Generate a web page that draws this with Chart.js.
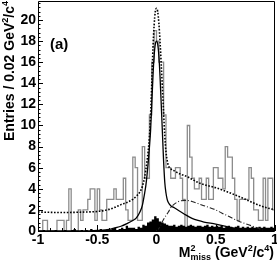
<!DOCTYPE html>
<html><head><meta charset="utf-8">
<script src="https://cdn.jsdelivr.net/npm/chart.js@4.4.1/dist/chart.umd.min.js"></script>
<style>html,body{margin:0;padding:0;background:#fff;}canvas{display:block;}</style>
</head><body>
<canvas id="c" width="277" height="261"></canvas>
<script>
// ---- data ----
const xMin = -1, xMax = 1, binWidth = 0.02;
const yMin = 0, yMax = 21.8;
const xTickValues = [-1, -0.5, 0, 0.5, 1];
const xTickLabels = ['-1', '-0.5', '0', '0.5', '1'];
const yTickValues = [0, 2, 4, 6, 8, 10, 12, 14, 16, 18, 20];
const yTickLabels = ['0', '2', '4', '6', '8', '10', '12', '14', '16', '18', '20'];

// data histogram (entries per 0.02 bin), 100 bins from -1 to 1
const dataCounts = [
  0,0,1,1,0,0,0,0,1,1,
  1,0,1,4,0,0,0,2,1,2,
  2,3,4,4,1,4,2,1,1,3,
  3,3,4,3,3,3,5,2,1,1,
  7,6,1,1,8,5,5,11,16,19,
  18,16,16,11,6,6,5,5,6,6,
  5,3,0,10,7,5,4,4,5,3,
  3,5,3,3,6,6,5,5,4,8,
  7,7,5,3,1,3,3,3,3,6,
  5,2,2,1,1,5,1,5,5,2
];
// filled black background histogram
const bkgCounts = [
  0,0,0.1,0,0,0,0,0.1,0,0,
  0,0.1,0,0,0.1,0.2,0,0,0.1,0,
  0.1,0,0.2,0.1,0,0.1,0.2,0.1,0.1,0.2,
  0.1,0.2,0.3,0.1,0.2,0.3,0.2,0.5,0.3,0.3,
  0.3,0.2,0.4,0.3,0.6,0.5,0.8,0.9,1.1,1.4,
  1.2,0.9,0.8,0.7,0.6,0.5,0.5,0.6,0.4,0.5,
  0.6,0.5,0.4,0.5,0.6,0.5,0.4,0.5,0.5,0.4,
  0.5,0.6,0.4,0.5,0.4,0.5,0.4,0.5,0.3,0.4,
  0.5,0.4,0.3,0.4,0.5,0.3,0.4,0.3,0.4,0.3,
  0.4,0.3,0.3,0.4,0.3,0.4,0.3,0.3,0.4,0.3
];
// fit curves sampled at these x positions
const curveX = [-1,-0.8,-0.6,-0.5,-0.4,-0.35,-0.3,-0.25,-0.2,-0.17,-0.14,-0.12,-0.1,-0.09,-0.08,-0.07,-0.06,-0.05,-0.04,-0.03,-0.02,-0.01,0,
  0.01,0.02,0.03,0.04,0.05,0.06,0.07,0.08,0.09,0.1,0.12,0.15,0.2,0.25,0.3,0.35,0.4,0.5,0.6,0.7,0.8,0.9,1];
const signalY = [0,0,0,0.05,0.15,0.3,0.45,0.7,1.0,1.25,1.8,2.4,3.6,4.3,5.3,6.5,7.9,9.5,12.0,14.6,16.6,17.7,18.0,
  17.7,16.6,14.6,12.0,9.3,6.6,4.6,3.6,3.0,2.7,2.4,2.2,1.85,1.5,1.2,1.0,0.85,0.65,0.4,0.15,0.05,0,0];
const totalY = [1.8,1.75,1.8,1.85,2.05,2.25,2.5,2.7,3.0,3.3,3.7,4.2,5.1,5.8,6.6,7.6,8.9,11.0,14.0,17.3,19.5,20.8,21.1,
  20.8,19.7,17.9,15.8,13.5,11.2,9.0,7.5,6.7,6.2,5.9,5.7,5.4,5.2,4.9,4.6,4.4,4.1,3.7,3.25,2.75,2.3,2.0];
const peakBkgX = [0,0.03,0.05,0.07,0.1,0.12,0.15,0.2,0.25,0.3,0.35,0.4,0.45,0.5,0.55,0.6,0.65,0.7,0.75,0.8,0.85,0.9];
const peakBkgY = [0,0.4,0.9,1.3,1.8,2.2,2.55,2.85,2.9,2.8,2.6,2.4,2.2,2.0,1.7,1.45,1.15,0.9,0.7,0.5,0.3,0.05];

// ---- build datasets ----
const binLow = dataCounts.map((_, i) => xMin + binWidth * i);
function histPoints(counts) {
  const pts = counts.map((v, i) => ({x: binLow[i], y: v}));
  pts.push({x: xMax, y: counts[counts.length - 1]});
  return pts;
}
const curvePts = (xs, ys) => xs.map((x, i) => ({x, y: ys[i]}));

const FONT = "'Liberation Sans', Arial, Helvetica, sans-serif";
const f = s => 'bold ' + s + 'px ' + FONT;

// draws a run of text pieces; a piece may be a {sup, sub} pair stacked in one slot
function runWidth(ctx, segs) {
  let w = 0;
  segs.forEach(s => {
    if (s.pair) {
      ctx.font = f(s.size);
      s.w = Math.max(ctx.measureText(s.sup).width, ctx.measureText(s.sub).width);
    } else { ctx.font = f(s.size); s.w = ctx.measureText(s.t).width; }
    w += s.w + (s.gap || 0);
  });
  return w;
}
function drawRun(ctx, segs, x, y, align) {
  const w = runWidth(ctx, segs);
  let cx = align === 'right' ? x - w : x;
  segs.forEach(s => {
    ctx.font = f(s.size);
    if (s.pair) {
      ctx.fillText(s.sup, cx, y - 6);
      ctx.fillText(s.sub, cx, y + 3);
    } else {
      ctx.fillText(s.t, cx, y + (s.dy || 0));
    }
    cx += s.w + (s.gap || 0);
  });
}

const decor = {
  id: 'decor',
  afterDatasetsDraw(chart) {
    const ctx = chart.ctx, a = chart.chartArea;
    const xs = chart.scales.x, ys = chart.scales.y;
    ctx.save();
    ctx.strokeStyle = '#000';
    ctx.lineWidth = 1;
    // frame
    ctx.beginPath();
    ctx.moveTo(a.left + 0.5, a.top + 0.5); ctx.lineTo(a.right - 0.5, a.top + 0.5);
    ctx.lineTo(a.right - 0.5, a.bottom + 0.5); ctx.lineTo(a.left + 0.5, a.bottom + 0.5);
    ctx.closePath(); ctx.stroke();
    // y ticks (inside)
    ctx.beginPath();
    for (let k = 0; k * 0.4 <= yMax + 1e-9; k++) {
      const v = k * 0.4, py = Math.round(ys.getPixelForValue(v)) + 0.5;
      const len = (k % 5 === 0) ? 5 : 2.5;
      ctx.moveTo(a.left, py); ctx.lineTo(a.left + len, py);
    }
    // x ticks (inside)
    for (let k = 0; k <= 20; k++) {
      const v = xMin + k * 0.1, px = Math.round(xs.getPixelForValue(v)) + 0.5;
      const len = (k % 5 === 0) ? 6 : 3;
      ctx.moveTo(px, a.bottom); ctx.lineTo(px, a.bottom - len);
    }
    ctx.stroke();
    ctx.restore();
  },
  afterDraw(chart) {
    const ctx = chart.ctx;
    ctx.save();
    ctx.fillStyle = '#000';
    ctx.textBaseline = 'alphabetic';
    // (a)
    ctx.font = f(15);
    ctx.fillText('(a)', 50, 49);
    // x title: M^2_miss (GeV^2/c^4)
    drawRun(ctx, [
      {t: 'M', size: 14},
      {pair: true, sup: '2', sub: 'miss', size: 9, gap: 4},
      {t: '(GeV', size: 14},
      {t: '2', size: 9, dy: -6},
      {t: '/c', size: 14},
      {t: '4', size: 9, dy: -6},
      {t: ')', size: 14}
    ], 274, 257, 'right');
    // y title rotated
    ctx.translate(14, 1);
    ctx.rotate(-Math.PI / 2);
    drawRun(ctx, [
      {t: 'Entries / 0.02 GeV', size: 14},
      {t: '2', size: 9, dy: -6},
      {t: '/c', size: 14},
      {t: '4', size: 9, dy: -6}
    ], 0, 0, 'right');
    ctx.restore();
  }
};

new Chart(document.getElementById('c'), {
  type: 'line',
  data: {
    datasets: [
      {label: 'total fit', data: curvePts(curveX, totalY), borderColor: '#000', borderWidth: 1.6, borderDash: [1.6, 1.6], pointRadius: 0, cubicInterpolationMode: 'monotone', fill: false, order: 1},
      {label: 'signal', data: curvePts(curveX, signalY), borderColor: '#000', borderWidth: 1.3, pointRadius: 0, cubicInterpolationMode: 'monotone', fill: false, order: 2},
      {label: 'peaking bkg', data: curvePts(peakBkgX, peakBkgY), borderColor: '#222', borderWidth: 1.1, borderDash: [5, 2, 1, 2], pointRadius: 0, cubicInterpolationMode: 'monotone', fill: false, order: 3},
      {label: 'background', data: histPoints(bkgCounts), stepped: true, borderWidth: 0, borderColor: '#000', backgroundColor: '#000', pointRadius: 0, fill: 'origin', order: 4},
      {label: 'data', data: histPoints(dataCounts), stepped: true, borderColor: '#8c8c8c', borderWidth: 1.3, pointRadius: 0, fill: false, order: 5}
    ]
  },
  options: {
    responsive: false,
    animation: false,
    devicePixelRatio: 1,
    layout: {padding: {left: 0, top: 1, right: 2, bottom: 0}},
    plugins: {legend: {display: false}, tooltip: {enabled: false}},
    scales: {
      x: {
        type: 'linear', min: xMin, max: xMax,
        grid: {display: false, drawTicks: false}, border: {display: false},
        afterBuildTicks: s => { s.ticks = xTickValues.map(v => ({value: v})); },
        ticks: {
          color: '#000', padding: 1, maxRotation: 0, autoSkip: false,
          font: {family: FONT, weight: 'bold', size: 14},
          callback: v => { const i = xTickValues.indexOf(v); return i >= 0 ? xTickLabels[i] : ''; }
        },
        afterFit: s => { s.height = 30; s.paddingLeft = 0; s.paddingRight = 0; }
      },
      y: {
        type: 'linear', min: yMin, max: yMax,
        grid: {display: false, drawTicks: false}, border: {display: false},
        afterBuildTicks: s => { s.ticks = yTickValues.map(v => ({value: v})); },
        ticks: {
          color: '#000', padding: 2,
          font: {family: FONT, weight: 'bold', size: 14},
          callback: v => { const i = yTickValues.indexOf(v); return i >= 0 ? yTickLabels[i] : ''; }
        },
        afterFit: s => { s.width = 38; s.paddingTop = 0; s.paddingBottom = 0; }
      }
    }
  },
  plugins: [decor]
});
</script>
</body></html>
